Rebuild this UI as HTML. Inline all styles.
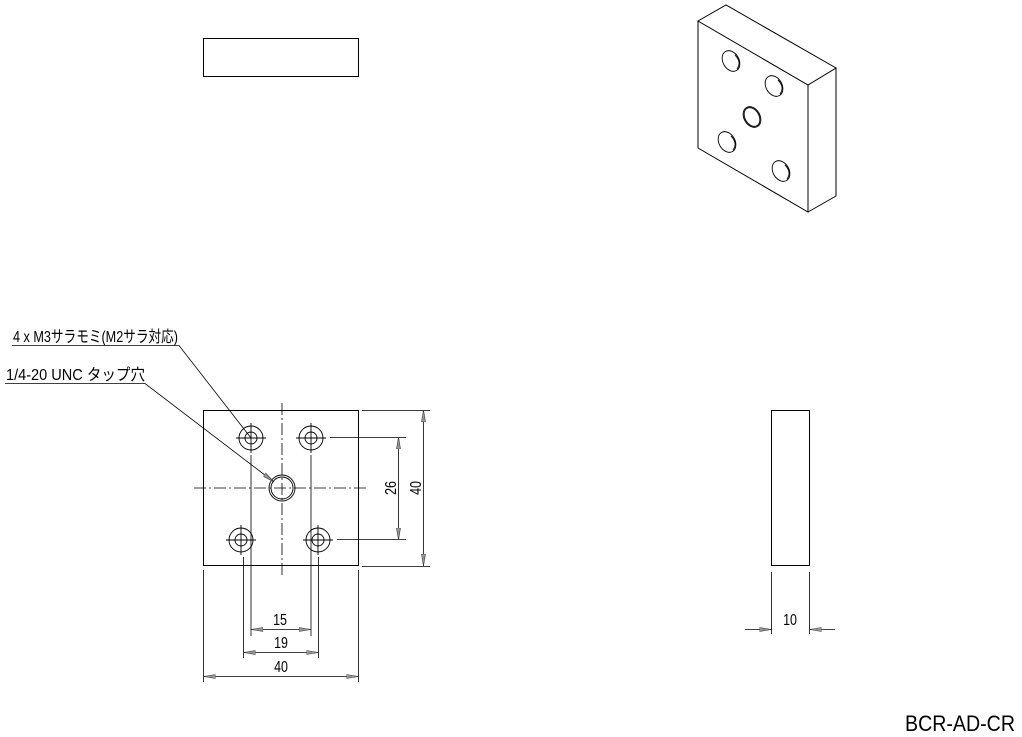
<!DOCTYPE html>
<html><head><meta charset="utf-8"><style>
html,body{margin:0;padding:0;background:#fff;}
svg{display:block;}
text{font-family:"Liberation Sans","Noto Sans CJK JP",sans-serif;fill:#000;}
</style></head><body>
<svg width="1022" height="737" viewBox="0 0 1022 737" xmlns="http://www.w3.org/2000/svg">
<defs>
<marker id="a" viewBox="0 0 12 6" refX="12" refY="3" markerWidth="12" markerHeight="6" markerUnits="userSpaceOnUse" orient="auto-start-reverse">
<path d="M0,1 L12,3 L0,5 Z" fill="#999" stroke="#333" stroke-width="0.6"/>
</marker>
</defs>
<g fill="none" stroke="#000" stroke-width="1">
<rect x="203.5" y="38.5" width="155" height="38"/>
<path d="M698,21 L726,5 L836,68 L808,85 Z M698,21 L698,148 L808,212 L808,85 M808,212 L836,196 L836,68"/>
<g stroke-width="0.9">
<ellipse cx="731" cy="61" rx="8" ry="11" transform="rotate(-30 731 61)"/>
<path d="M735,55 Q742,62 737,69"/>
<ellipse cx="774" cy="86" rx="8" ry="11" transform="rotate(-30 774 86)"/>
<path d="M778,80 Q785,87 780,94"/>
<ellipse cx="752" cy="117" rx="8" ry="11" transform="rotate(-30 752 117)"/>
<ellipse cx="752" cy="117" rx="7" ry="10" transform="rotate(-30 752 117)"/>
<ellipse cx="727" cy="142" rx="8" ry="11" transform="rotate(-30 727 142)"/>
<path d="M731,136 Q738,143 733,150"/>
<ellipse cx="781" cy="171" rx="8" ry="11" transform="rotate(-30 781 171)"/>
<path d="M785,165 Q792,172 787,179"/>
</g>
<rect x="203.5" y="410.5" width="155" height="155"/>
<g stroke-width="0.8" stroke-dasharray="12,3,2,3">
<line x1="282" y1="403" x2="282" y2="575"/>
<line x1="194" y1="488" x2="367" y2="488"/>
</g>
<g stroke-width="0.9">
<circle cx="251" cy="438" r="12"/><circle cx="251" cy="438" r="6"/>
<circle cx="311" cy="438" r="12"/><circle cx="311" cy="438" r="6"/>
<circle cx="241" cy="540" r="12"/><circle cx="241" cy="540" r="6"/>
<circle cx="318" cy="540" r="12"/><circle cx="318" cy="540" r="6"/>
<circle cx="282" cy="488" r="13"/><circle cx="282" cy="488" r="11"/>
<path d="M236,438 H266 M251,423 V453 M296,438 H326 M311,423 V453 M226,540 H256 M241,525 V555 M303,540 H333 M318,525 V555"/>
</g>
<g stroke-width="0.8">
<path d="M330,437.5 H406 M337,539.5 H406 M362,410.5 H430 M362,566.5 H430"/>
<path d="M251,455 V636 M311,455 V636 M243.5,557 V658 M318.5,557 V658 M203.5,570 V682 M358.5,570 V682"/>
<path d="M398.5,437 V540" marker-start="url(#a)" marker-end="url(#a)"/>
<path d="M423.5,410 V566" marker-start="url(#a)" marker-end="url(#a)"/>
<path d="M251,629.5 H311" marker-start="url(#a)" marker-end="url(#a)"/>
<path d="M243.5,652.5 H318.5" marker-start="url(#a)" marker-end="url(#a)"/>
<path d="M203.5,676.5 H358.5" marker-start="url(#a)" marker-end="url(#a)"/>
<path d="M12,345.5 H179 L251,438"/>
<path d="M5,383.5 H145 L274,482" marker-end="url(#a)"/>
</g>
<rect x="771.5" y="410.5" width="38" height="155"/>
<g stroke-width="0.8">
<path d="M771.5,572 V634 M809.5,572 V634"/>
<path d="M745,629.5 H771.5" marker-end="url(#a)"/>
<path d="M835,629.5 H809.5" marker-end="url(#a)"/>
</g>
</g>
<g font-size="16">
<text transform="translate(280,625) scale(0.78,1)" text-anchor="middle">15</text>
<text transform="translate(281,648) scale(0.78,1)" text-anchor="middle">19</text>
<text transform="translate(281,672) scale(0.78,1)" text-anchor="middle">40</text>
<text transform="translate(790,625) scale(0.78,1)" text-anchor="middle">10</text>
<text transform="translate(396,488) rotate(-90) scale(0.78,1)" text-anchor="middle">26</text>
<text transform="translate(421,488) rotate(-90) scale(0.78,1)" text-anchor="middle">40</text>
<text x="13" y="342" textLength="165" lengthAdjust="spacingAndGlyphs">4 x M3サラモミ(M2サラ対応)</text>
<text x="6" y="380" textLength="139" lengthAdjust="spacingAndGlyphs">1/4-20 UNC タップ穴</text>
</g>
<text x="905" y="731" font-size="22" textLength="110" lengthAdjust="spacingAndGlyphs">BCR-AD-CR</text>
</svg>
</body></html>
